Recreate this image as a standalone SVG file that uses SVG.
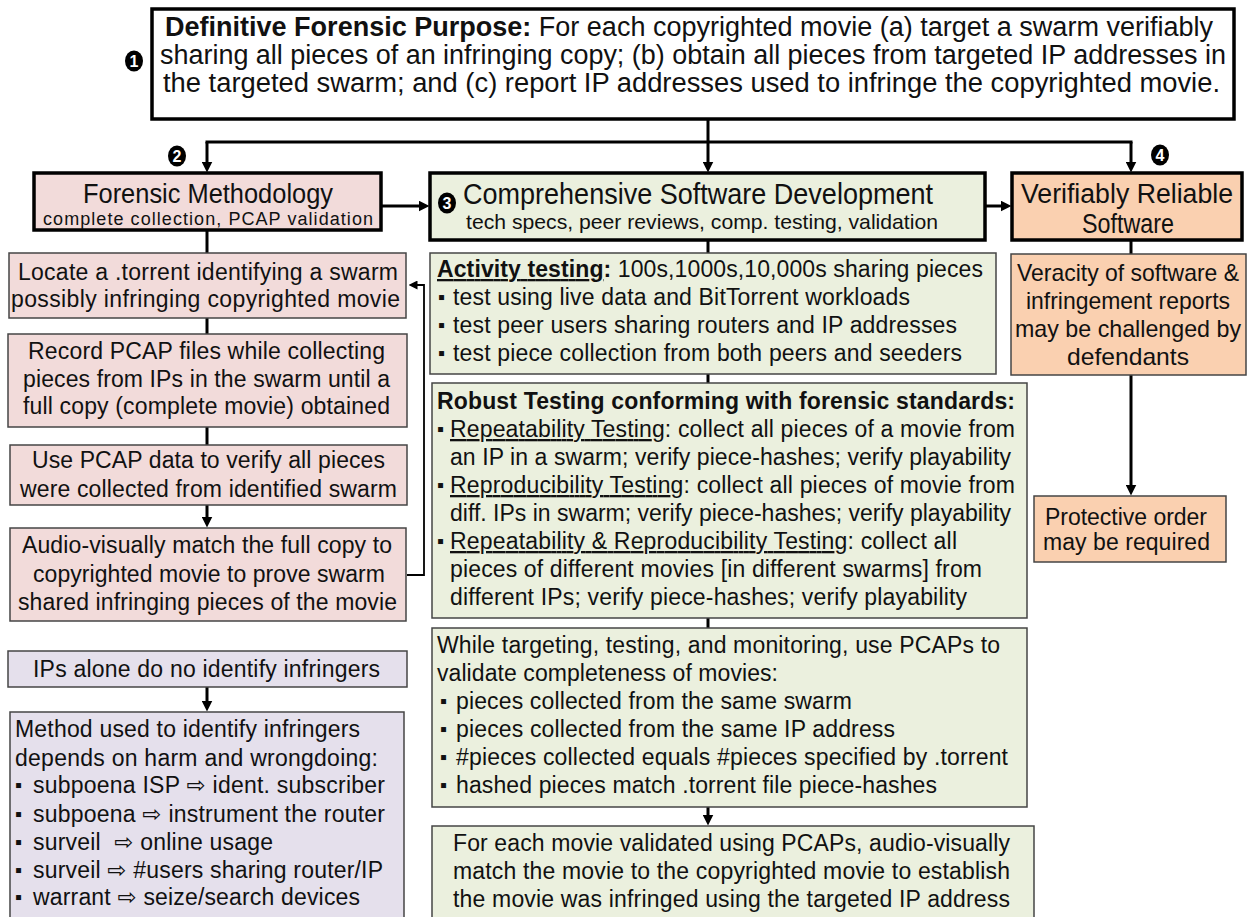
<svg xmlns="http://www.w3.org/2000/svg" width="1249" height="917" viewBox="0 0 1249 917">
<defs>
<style>
text{font-family:"Liberation Sans",Arial,"DejaVu Sans",sans-serif;fill:#111;}
.t23{font-size:23px}
.t24{font-size:24px}
.bold{font-weight:bold}
.u{text-decoration:underline}
.pink{fill:#F2DBDA;stroke:#454545;stroke-width:1.5}
.green{fill:#EBF0DE;stroke:#454545;stroke-width:1.5}
.peach{fill:#FAD0B0;stroke:#454545;stroke-width:1.5}
.lav{fill:#E5E0EC;stroke:#454545;stroke-width:1.5}
.thick{stroke:#000;stroke-width:3.5}
.white{fill:#fff}
.conn{stroke:#000;stroke-width:3;fill:none}
.thin{stroke-width:1.8}
.badge ellipse{fill:#000}
.badge text{fill:#fff;font-weight:bold;font-size:16px;text-anchor:middle}
.bul{font-size:20px}
.mid{text-anchor:middle}
</style>
<marker id="arr" markerUnits="userSpaceOnUse" viewBox="0 0 11 11" markerWidth="11" markerHeight="11" refX="0.5" refY="5.5" orient="auto"><path d="M0,0 L11,5.5 L0,11 z" fill="#000"/></marker>
<marker id="arrS" markerUnits="userSpaceOnUse" viewBox="0 0 9 9" markerWidth="9" markerHeight="9" refX="0.5" refY="4.5" orient="auto"><path d="M0,0 L9,4.5 L0,9 z" fill="#000"/></marker>
</defs>

<!-- connectors -->
<g id="connectors">
  <line class="conn" x1="708" y1="120" x2="708" y2="142"/>
  <line class="conn" x1="205.5" y1="142" x2="1132.5" y2="142"/>
  <line class="conn" x1="207" y1="142" x2="207" y2="162" marker-end="url(#arr)"/>
  <line class="conn" x1="708" y1="142" x2="708" y2="162" marker-end="url(#arr)"/>
  <line class="conn" x1="1131" y1="142" x2="1131" y2="162" marker-end="url(#arr)"/>
  <line class="conn" x1="381" y1="206" x2="419" y2="206" marker-end="url(#arr)"/>
  <line class="conn" x1="985" y1="206" x2="1001" y2="206" marker-end="url(#arr)"/>
  <!-- left column -->
  <line class="conn" x1="207" y1="230" x2="207" y2="253"/>
  <line class="conn" x1="207" y1="318" x2="207" y2="334"/>
  <line class="conn" x1="207" y1="427" x2="207" y2="445"/>
  <line class="conn" x1="207" y1="505" x2="207" y2="517" marker-end="url(#arr)"/>
  <line class="conn" x1="207" y1="687" x2="207" y2="701" marker-end="url(#arr)"/>
  <polyline class="conn thin" points="407,575 424,575 424,285 417,285" marker-end="url(#arrS)"/>
  <!-- middle column -->
  <line class="conn" x1="708" y1="240" x2="708" y2="253"/>
  <line class="conn" x1="708" y1="374" x2="708" y2="383"/>
  <line class="conn" x1="708" y1="618" x2="708" y2="628"/>
  <line class="conn" x1="708" y1="807" x2="708" y2="815" marker-end="url(#arr)"/>
  <!-- right column -->
  <line class="conn" x1="1131" y1="240" x2="1131" y2="254"/>
  <line class="conn" x1="1131" y1="375" x2="1131" y2="485" marker-end="url(#arr)"/>
</g>

<!-- purpose -->
<g id="purpose">
  <rect class="white thick" x="152" y="9" width="1082" height="110"/>
  <text x="165" y="36" style="font-size:27px" textLength="1048" lengthAdjust="spacingAndGlyphs"><tspan class="bold">Definitive Forensic Purpose:</tspan> For each copyrighted movie (a) target a swarm verifiably</text>
  <text x="160" y="64" style="font-size:27px" textLength="1066" lengthAdjust="spacingAndGlyphs">sharing all pieces of an infringing copy; (b) obtain all pieces from targeted IP addresses in</text>
  <text x="163" y="92" style="font-size:27px" textLength="1057" lengthAdjust="spacingAndGlyphs">the targeted swarm; and (c) report IP addresses used to infringe the copyrighted movie.</text>
</g>
<g id="badge1" class="badge"><ellipse cx="134" cy="61" rx="9" ry="10.5"/><text x="134" y="67">1</text></g>
<g id="badge2" class="badge"><ellipse cx="177" cy="156" rx="9" ry="10.5"/><text x="177" y="162">2</text></g>
<g id="badge4" class="badge"><ellipse cx="1160" cy="155" rx="9" ry="10.5"/><text x="1160" y="161">4</text></g>

<!-- forensic methodology -->
<g id="methodology">
  <rect class="pink thick" x="34" y="173" width="347" height="57"/>
  <text x="83" y="203" style="font-size:27px" textLength="250" lengthAdjust="spacingAndGlyphs">Forensic Methodology</text>
  <text x="43" y="225" style="font-size:18px" textLength="330" lengthAdjust="spacing">complete collection, PCAP validation</text>
</g>

<!-- software development -->
<g id="development">
  <rect class="green thick" x="430" y="173" width="555" height="67"/>
  <text x="463" y="204" style="font-size:29px" textLength="470" lengthAdjust="spacingAndGlyphs">Comprehensive Software Development</text>
  <text x="466" y="229" style="font-size:21px" textLength="472" lengthAdjust="spacingAndGlyphs">tech specs, peer reviews, comp. testing, validation</text>
</g>
<g id="badge3" class="badge"><ellipse cx="447" cy="203" rx="9" ry="10.5"/><text x="447" y="209">3</text></g>

<!-- reliable software -->
<g id="reliable">
  <rect class="peach thick" x="1012" y="173" width="230" height="67"/>
  <text x="1021" y="203" style="font-size:27px" textLength="212" lengthAdjust="spacingAndGlyphs">Verifiably Reliable</text>
  <text x="1082" y="233" style="font-size:27px" textLength="92" lengthAdjust="spacingAndGlyphs">Software</text>
</g>

<!-- left column -->
<g id="locate">
  <rect class="pink" x="9" y="253" width="397" height="65"/>
  <text class="t23" x="18" y="280" textLength="380" lengthAdjust="spacing">Locate a .torrent identifying a swarm</text>
  <text class="t23" x="11" y="307" textLength="389" lengthAdjust="spacing">possibly infringing copyrighted movie</text>
</g>
<g id="record">
  <rect class="pink" x="8" y="334" width="399" height="93"/>
  <text class="t23" x="28" y="359" textLength="357" lengthAdjust="spacing">Record PCAP files while collecting</text>
  <text class="t23" x="23" y="387" textLength="367" lengthAdjust="spacing">pieces from IPs in the swarm until a</text>
  <text class="t23" x="23" y="414" textLength="367" lengthAdjust="spacing">full copy (complete movie) obtained</text>
</g>
<g id="verify">
  <rect class="pink" x="10" y="445" width="397" height="60"/>
  <text class="t23" x="32" y="468" textLength="353" lengthAdjust="spacing">Use PCAP data to verify all pieces</text>
  <text class="t23" x="20" y="497" textLength="377" lengthAdjust="spacing">were collected from identified swarm</text>
</g>
<g id="match">
  <rect class="pink" x="10" y="528" width="396" height="93"/>
  <text class="t23" x="22" y="553" textLength="370" lengthAdjust="spacing">Audio-visually match the full copy to</text>
  <text class="t23" x="33" y="582" textLength="352" lengthAdjust="spacing">copyrighted movie to prove swarm</text>
  <text class="t23" x="18" y="610" textLength="379" lengthAdjust="spacing">shared infringing pieces of the movie</text>
</g>
<g id="ips">
  <rect class="lav" x="8" y="651" width="399" height="36"/>
  <text class="t23" x="33" y="677" textLength="347" lengthAdjust="spacing">IPs alone do no identify infringers</text>
</g>
<g id="identify">
  <rect class="lav" x="10" y="712" width="394" height="215"/>
  <text class="t23" x="15" y="737" textLength="345" lengthAdjust="spacing">Method used to identify infringers</text>
  <text class="t23" x="15" y="766" textLength="363" lengthAdjust="spacing">depends on harm and wrongdoing:</text>
  <text class="bul" x="15" y="792">▪</text>
  <text class="t23" x="33" y="793" textLength="352" lengthAdjust="spacing">subpoena ISP ⇨ ident. subscriber</text>
  <text class="bul" x="15" y="821">▪</text>
  <text class="t23" x="33" y="822" textLength="352" lengthAdjust="spacing">subpoena ⇨ instrument the router</text>
  <text class="bul" x="15" y="849">▪</text>
  <text class="t23" x="33" y="850" textLength="240" lengthAdjust="spacing">surveil&#160; ⇨ online usage</text>
  <text class="bul" x="15" y="877">▪</text>
  <text class="t23" x="33" y="878" textLength="350" lengthAdjust="spacing">surveil ⇨ #users sharing router/IP</text>
  <text class="bul" x="15" y="904">▪</text>
  <text class="t23" x="33" y="905" textLength="327" lengthAdjust="spacing">warrant ⇨ seize/search devices</text>
</g>

<!-- middle column -->
<g id="activity">
  <rect class="green" x="430" y="253" width="566" height="121"/>
  <text class="t23" x="437" y="277" textLength="546" lengthAdjust="spacing"><tspan class="bold u">Activity testing</tspan><tspan class="bold">:</tspan> 100s,1000s,10,000s sharing pieces</text>
  <text class="bul" x="438" y="304">▪</text>
  <text class="t23" x="453" y="305" textLength="457" lengthAdjust="spacing">test using live data and BitTorrent workloads</text>
  <text class="bul" x="438" y="332">▪</text>
  <text class="t23" x="453" y="333" textLength="504" lengthAdjust="spacing">test peer users sharing routers and IP addresses</text>
  <text class="bul" x="438" y="360">▪</text>
  <text class="t23" x="453" y="361" textLength="509" lengthAdjust="spacing">test piece collection from both peers and seeders</text>
</g>
<g id="robust">
  <rect class="green" x="432" y="383" width="595" height="235"/>
  <text class="t23 bold" x="437" y="409" textLength="578" lengthAdjust="spacing">Robust Testing conforming with forensic standards:</text>
  <text class="bul" x="437" y="436">▪</text>
  <text class="t23" x="450" y="437" textLength="565" lengthAdjust="spacing"><tspan class="u">Repeatability Testing</tspan>: collect all pieces of a movie from</text>
  <text class="t23" x="450" y="465" textLength="561" lengthAdjust="spacing">an IP in a swarm; verify piece-hashes; verify playability</text>
  <text class="bul" x="437" y="492">▪</text>
  <text class="t23" x="450" y="493" textLength="565" lengthAdjust="spacing"><tspan class="u">Reproducibility Testing</tspan>: collect all pieces of movie from</text>
  <text class="t23" x="450" y="521" textLength="561" lengthAdjust="spacing">diff. IPs in swarm; verify piece-hashes; verify playability</text>
  <text class="bul" x="437" y="548">▪</text>
  <text class="t23" x="450" y="549" textLength="507" lengthAdjust="spacing"><tspan class="u">Repeatability &amp; Reproducibility Testing</tspan>: collect all</text>
  <text class="t23" x="450" y="577" textLength="532" lengthAdjust="spacing">pieces of different movies [in different swarms] from</text>
  <text class="t23" x="450" y="605" textLength="517" lengthAdjust="spacing">different IPs; verify piece-hashes; verify playability</text>
</g>
<g id="pcap-validation">
  <rect class="green" x="432" y="628" width="595" height="179"/>
  <text class="t23" x="437" y="653" textLength="563" lengthAdjust="spacing">While targeting, testing, and monitoring, use PCAPs to</text>
  <text class="t23" x="437" y="681" textLength="341" lengthAdjust="spacing">validate completeness of movies:</text>
  <text class="bul" x="440" y="708">▪</text>
  <text class="t23" x="456" y="709" textLength="396" lengthAdjust="spacing">pieces collected from the same swarm</text>
  <text class="bul" x="440" y="736">▪</text>
  <text class="t23" x="456" y="737" textLength="439" lengthAdjust="spacing">pieces collected from the same IP address</text>
  <text class="bul" x="440" y="764">▪</text>
  <text class="t23" x="456" y="765" textLength="552" lengthAdjust="spacing">#pieces collected equals #pieces specified by .torrent</text>
  <text class="bul" x="440" y="792">▪</text>
  <text class="t23" x="456" y="793" textLength="481" lengthAdjust="spacing">hashed pieces match .torrent file piece-hashes</text>
</g>
<g id="establish">
  <rect class="green" x="432" y="826" width="602" height="100"/>
  <text class="t23" x="453" y="851" textLength="557" lengthAdjust="spacing">For each movie validated using PCAPs, audio-visually</text>
  <text class="t23" x="453" y="879" textLength="557" lengthAdjust="spacing">match the movie to the copyrighted movie to establish</text>
  <text class="t23" x="453" y="907" textLength="557" lengthAdjust="spacing">the movie was infringed using the targeted IP address</text>
</g>

<!-- right column -->
<g id="veracity">
  <rect class="peach" x="1011" y="254" width="235" height="121"/>
  <text class="t24" x="1017" y="281" textLength="222" lengthAdjust="spacingAndGlyphs">Veracity of software &amp;</text>
  <text class="t24" x="1026" y="309" textLength="204" lengthAdjust="spacingAndGlyphs">infringement reports</text>
  <text class="t24" x="1015" y="337" textLength="226" lengthAdjust="spacingAndGlyphs">may be challenged by</text>
  <text class="t24" x="1067" y="365" textLength="122" lengthAdjust="spacingAndGlyphs">defendants</text>
</g>
<g id="protective">
  <rect class="peach" x="1034" y="496" width="192" height="66"/>
  <text class="t23" x="1045" y="525" textLength="162" lengthAdjust="spacing">Protective order</text>
  <text class="t23" x="1043" y="550" textLength="167" lengthAdjust="spacing">may be required</text>
</g>
</svg>
